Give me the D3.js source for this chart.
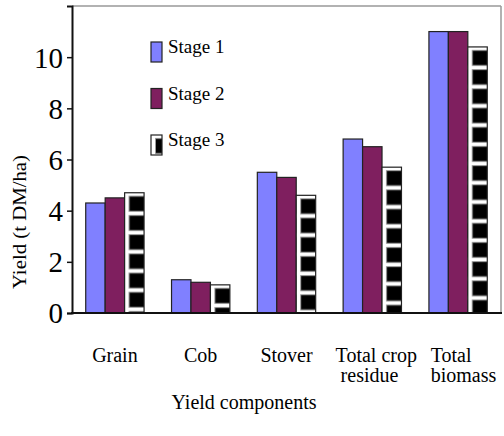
<!DOCTYPE html>
<html>
<head>
<meta charset="utf-8">
<script src="https://cdn.jsdelivr.net/npm/d3@7"></script>
<style>
  body { margin: 0; background: #fff; }
</style>
</head>
<body>
<svg id="chart" width="504" height="436"></svg>
<script>
// chart values
const categories = [["Grain"], ["Cob"], ["Stover"], ["Total crop", "residue"], ["Total", "biomass"]];
const seriesNames = ["Stage 1", "Stage 2", "Stage 3"];
const stage1 = [4.3, 1.3, 5.5, 6.8, 11.0];
const stage2 = [4.5, 1.2, 5.3, 6.5, 11.0];
const stage3 = [4.7, 1.1, 4.6, 5.7, 10.4];
const yTicks = [0, 2, 4, 6, 8, 10];

const series = [stage1, stage2, stage3];
const FONT = "'Liberation Serif', 'Times New Roman', Tinos, 'DejaVu Serif', serif";
const svg = d3.select('#chart').style('font-family', FONT);
const width = 504, height = 436;
const margin = { top: 6, right: 3, bottom: 123, left: 72 };
const colors = ['#8080ff', '#7f1f5f', null];

const x = d3.scaleBand()
    .domain(categories.map((d, i) => i))
    .range([margin.left, width - margin.right])
    .paddingInner(0.32)
    .paddingOuter(0.16);

const xs = d3.scaleBand()
    .domain(seriesNames)
    .range([0, x.bandwidth()]);

const y = d3.scaleLinear()
    .domain([0, 12])
    .range([height - margin.bottom, margin.top]);

const defs = svg.append('defs');

// striped fill for stage 3: black blocks with white rungs and a white strip on the left
function stripePattern(id, px, py, w) {
    const p = defs.append('pattern')
        .attr('id', id)
        .attr('patternUnits', 'userSpaceOnUse')
        .attr('x', px)
        .attr('y', py)
        .attr('width', w)
        .attr('height', 19.2);
    p.append('rect').attr('width', w).attr('height', 19.2).attr('fill', '#fff');
    p.append('rect')
        .attr('x', 4.5).attr('y', 3.5)
        .attr('width', w - 4).attr('height', 15)
        .attr('fill', '#000')
        .attr('stroke', '#9a9a9a')
        .attr('stroke-width', 1);
    return `url(#${id})`;
}

function label(sel) {
    return sel.style('font-family', FONT).attr('fill', '#000');
}

// frame: grey top/right, black left/bottom
const plot = svg.append('g');
plot.append('line')
    .attr('x1', margin.left).attr('x2', width - margin.right)
    .attr('y1', margin.top).attr('y2', margin.top)
    .attr('stroke', '#999').attr('stroke-width', 1.5);
plot.append('line')
    .attr('x1', width - margin.right).attr('x2', width - margin.right)
    .attr('y1', margin.top).attr('y2', height - margin.bottom)
    .attr('stroke', '#999').attr('stroke-width', 1.5);

// bars
series.forEach((vals, s) => {
    svg.append('g')
        .selectAll('rect')
        .data(vals)
        .join('rect')
        .attr('x', (d, i) => x(i) + xs(seriesNames[s]))
        .attr('y', d => y(d))
        .attr('width', xs.bandwidth())
        .attr('height', d => y(0) - y(d))
        .attr('fill', (d, i) => colors[s] ||
            stripePattern(`stripe-${i}`, x(i) + xs(seriesNames[s]), y(d), xs.bandwidth()))
        .attr('stroke', '#222')
        .attr('stroke-width', 1.2);
});

// y axis
const yAxis = svg.append('g')
    .attr('transform', `translate(${margin.left},0)`)
    .call(d3.axisLeft(y).tickValues(yTicks).tickSize(5).tickPadding(4).tickFormat(d3.format('d')));
yAxis.attr('font-family', null).attr('font-size', null);
yAxis.select('.domain').attr('stroke', '#111').attr('stroke-width', 2);
yAxis.selectAll('.tick line').attr('stroke', '#111').attr('stroke-width', 1.5);
yAxis.selectAll('.tick text')
    .call(label)
    .style('font-size', '29px')
    .attr('dy', '0.34em');

// bottom axis line, no ticks
svg.append('line')
    .attr('x1', margin.left - 1).attr('x2', width - margin.right + 1)
    .attr('y1', y(0)).attr('y2', y(0))
    .attr('stroke', '#111').attr('stroke-width', 2);

// category labels
const catLabels = svg.append('g')
    .selectAll('text')
    .data(categories)
    .join('text')
    .call(label)
    .style('font-size', '20px')
    .attr('y', 362);

catLabels.each(function(lines, i) {
    const t = d3.select(this);
    const cx = x(i) + x.bandwidth() / 2;
    if (lines.length === 1) {
        t.attr('x', cx).attr('text-anchor', 'middle').text(lines[0]);
        return;
    }
    const first = t.append('tspan').text(lines[0]);
    const w = first.node().getComputedTextLength();
    const x0 = i === 3 ? cx - w / 2 + 4 : cx - w / 2 - 7;
    first.attr('x', x0);
    t.append('tspan')
        .attr('x', x0 + (i === 3 ? 5 : 0))
        .attr('dy', 20)
        .text(lines[1]);
});

// axis titles
svg.append('text')
    .call(label)
    .attr('text-anchor', 'middle')
    .style('font-size', '20px')
    .attr('x', 244)
    .attr('y', 409)
    .text('Yield components');

svg.append('text')
    .call(label)
    .attr('text-anchor', 'middle')
    .style('font-size', '18px')
    .attr('textLength', 134)
    .attr('lengthAdjust', 'spacingAndGlyphs')
    .attr('transform', 'translate(26,222) rotate(-90)')
    .text('Yield (t DM/ha)');

// legend
const legend = svg.append('g');
seriesNames.forEach((name, s) => {
    const ly = 42 + s * 46.5;
    legend.append('rect')
        .attr('x', 151).attr('y', ly)
        .attr('width', 11).attr('height', 20)
        .attr('fill', colors[s] || stripePattern('stripe-legend', 151, ly, 11))
        .attr('stroke', '#222')
        .attr('stroke-width', 1.2);
    legend.append('text')
        .call(label)
        .attr('x', 168)
        .attr('y', ly + 11)
        .style('font-size', '19px')
        .text(name);
});
</script>
</body>
</html>
